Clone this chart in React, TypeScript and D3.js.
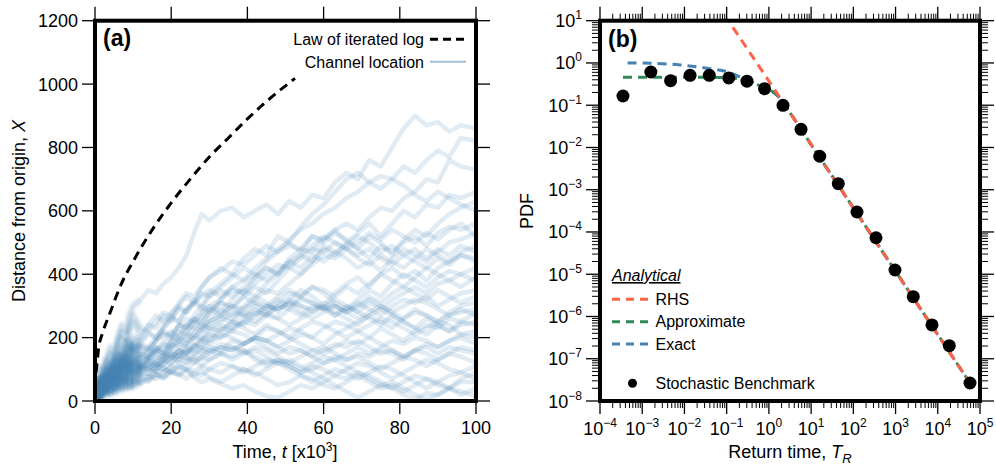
import React, { useEffect, useRef } from "react";
import * as d3 from "d3";

// ---- panel (a): channel location random walks ----
// sample times [x10^3]
const TIME = [
  0, 0.5, 1, 1.5, 2, 3, 4, 5, 6, 7, 8, 9, 10,
  12, 14, 16, 18, 20, 22, 24, 26, 28, 30,
  33, 36, 39, 42, 45, 48, 51, 54, 57, 60, 63, 66,
  69, 72, 75, 78, 81, 84, 87, 90, 93, 96, 100,
];

// distance from origin for each realisation (coarse)
const CHANNELS: number[][] = [
  [0, 40, 75, 55, 100, 130, 170, 150, 200, 240, 220, 270, 300,
   320, 350, 340, 370, 390, 420, 460, 530, 590, 570,
   600, 610, 580, 600, 620, 590, 630, 610, 650, 640, 690, 720,
   700, 760, 740, 800, 860, 900, 870, 880, 850, 870, 860],
  [0, 30, 60, 40, 80, 110, 90, 140, 120, 160, 190, 170, 185,
   200, 240, 230, 270, 250, 300, 330, 310, 360, 390,
   420, 400, 450, 480, 460, 520, 500, 550, 590, 620, 660, 700,
   720, 690, 710, 700, 740, 720, 760, 790, 770, 830, 820],
  [0, 45, 25, 65, 50, 85, 120, 100, 140, 120, 150, 175, 150,
   160, 150, 190, 210, 200, 240, 230, 270, 300, 280,
   320, 360, 340, 390, 420, 400, 450, 480, 470, 510, 540, 560,
   540, 580, 610, 600, 640, 660, 700, 690, 760, 740, 730],
  [0, 35, 15, 50, 75, 55, 95, 80, 115, 140, 125, 160, 170,
   180, 170, 200, 230, 260, 250, 290, 320, 300, 340,
   370, 400, 380, 420, 450, 480, 500, 470, 520, 510, 540, 500,
   530, 560, 520, 560, 600, 580, 620, 610, 650, 640, 660],
  [0, 20, 45, 30, 60, 40, 80, 105, 85, 120, 100, 135, 120,
   140, 170, 160, 190, 220, 200, 240, 260, 240, 280,
   310, 290, 330, 360, 340, 380, 420, 400, 440, 480, 460, 500,
   480, 520, 500, 460, 510, 540, 520, 560, 590, 610, 630],
  [0, 45, 30, 70, 55, 95, 80, 120, 150, 130, 170, 190, 165,
   180, 210, 200, 230, 260, 290, 280, 310, 340, 330,
   360, 390, 420, 400, 440, 470, 490, 480, 520, 500, 530, 510,
   480, 450, 490, 470, 500, 520, 490, 530, 550, 540, 560],
  [0, 15, 35, 60, 40, 75, 60, 100, 80, 115, 95, 125, 105,
   110, 140, 170, 150, 190, 220, 210, 250, 280, 300,
   280, 320, 350, 330, 370, 400, 430, 460, 440, 490, 470, 450,
   420, 440, 410, 450, 480, 460, 440, 470, 500, 510, 530],
  [0, 35, 60, 40, 75, 100, 80, 115, 140, 170, 150, 180, 200,
   190, 220, 200, 240, 270, 250, 290, 310, 290, 330,
   350, 330, 360, 390, 420, 400, 440, 460, 490, 520, 500, 480,
   450, 430, 460, 440, 420, 450, 480, 460, 440, 470, 490],
  [0, 25, 45, 25, 55, 80, 60, 90, 120, 100, 130, 110, 135,
   130, 160, 150, 170, 200, 190, 220, 250, 230, 260,
   290, 270, 300, 330, 310, 280, 320, 350, 330, 300, 340, 370,
   390, 360, 400, 420, 390, 410, 380, 420, 440, 460, 450],
  [0, 30, 55, 35, 60, 90, 115, 95, 125, 105, 140, 165, 140,
   150, 140, 170, 160, 190, 210, 240, 230, 260, 290,
   270, 300, 330, 310, 290, 320, 300, 330, 360, 340, 310, 290,
   320, 350, 330, 370, 400, 380, 360, 390, 410, 400, 420],
  [0, 40, 20, 55, 40, 70, 100, 130, 110, 140, 165, 145, 175,
   170, 160, 190, 220, 210, 240, 230, 260, 250, 280,
   310, 300, 270, 300, 280, 260, 290, 270, 300, 290, 320, 300,
   280, 310, 290, 320, 340, 360, 340, 370, 380, 360, 390],
  [0, 20, 40, 60, 40, 70, 50, 80, 105, 85, 115, 95, 110,
   120, 110, 140, 130, 160, 150, 180, 200, 190, 220,
   240, 230, 260, 290, 270, 300, 320, 300, 280, 300, 270, 290,
   310, 290, 270, 300, 320, 310, 330, 300, 320, 340, 350],
  [0, 35, 15, 45, 30, 60, 40, 75, 55, 90, 70, 100, 80,
   95, 120, 110, 130, 150, 140, 170, 160, 190, 210,
   200, 230, 250, 240, 270, 260, 240, 260, 280, 300, 280, 260,
   240, 270, 250, 230, 260, 280, 270, 250, 280, 300, 310],
  [0, 10, 30, 15, 40, 30, 60, 85, 65, 95, 75, 105, 120,
   100, 130, 150, 140, 170, 190, 180, 210, 200, 230,
   220, 250, 230, 210, 240, 220, 200, 230, 250, 240, 220, 200,
   220, 200, 230, 210, 190, 220, 240, 230, 260, 250, 280],
  [0, 30, 50, 30, 55, 35, 70, 50, 85, 65, 100, 80, 95,
   110, 100, 125, 145, 135, 160, 150, 175, 165, 190,
   210, 200, 180, 200, 190, 210, 230, 220, 200, 180, 210, 230,
   250, 270, 290, 270, 250, 230, 260, 240, 220, 240, 250],
  [0, 20, 8, 35, 20, 50, 30, 65, 45, 75, 55, 80, 60,
   80, 75, 95, 90, 110, 130, 120, 140, 160, 150,
   170, 160, 180, 200, 190, 170, 190, 210, 200, 230, 250, 240,
   220, 240, 260, 250, 230, 210, 230, 250, 240, 210, 220],
  [0, 35, 55, 35, 65, 90, 70, 100, 80, 110, 135, 110, 125,
   120, 140, 130, 150, 140, 120, 140, 130, 110, 130,
   150, 140, 160, 130, 110, 130, 120, 100, 120, 140, 130, 150,
   170, 150, 170, 190, 180, 200, 190, 170, 190, 200, 180],
  [0, 10, 25, 40, 25, 45, 30, 55, 40, 65, 45, 70, 50,
   65, 60, 80, 70, 90, 85, 100, 95, 110, 100,
   90, 110, 100, 80, 100, 120, 110, 90, 100, 120, 140, 130,
   150, 140, 160, 150, 130, 160, 170, 150, 170, 160, 150],
  [0, 25, 45, 20, 50, 30, 55, 35, 65, 45, 70, 50, 70,
   55, 70, 85, 75, 95, 110, 100, 120, 140, 130,
   150, 170, 160, 140, 120, 130, 110, 90, 110, 100, 80, 100,
   120, 110, 90, 70, 90, 110, 130, 120, 100, 90, 110],
  [0, 20, 40, 55, 35, 60, 85, 65, 95, 120, 100, 130, 110,
   100, 120, 110, 130, 150, 140, 160, 150, 170, 160,
   180, 170, 150, 160, 140, 120, 130, 110, 90, 70, 50, 30,
   10, 30, 50, 40, 60, 80, 70, 50, 40, 60, 60],
  [0, 35, 15, 50, 65, 45, 80, 105, 85, 110, 135, 115, 130,
   110, 100, 90, 105, 90, 80, 95, 75, 60, 70,
   55, 40, 50, 30, 15, 10, 30, 50, 40, 60, 80, 70,
   90, 80, 60, 40, 20, 5, 25, 20, 40, 30, 15],
  [0, 45, 80, 105, 80, 120, 150, 130, 175, 200, 180, 220, 245,
   210, 240, 270, 250, 280, 300, 280, 310, 330, 350,
   330, 360, 380, 400, 380, 410, 440, 420, 460, 440, 470, 490,
   520, 500, 470, 490, 460, 480, 450, 480, 460, 490, 470],
  [0, 20, 40, 65, 45, 70, 55, 90, 70, 105, 85, 115, 95,
   105, 100, 120, 115, 135, 160, 150, 175, 200, 190,
   220, 250, 240, 270, 300, 290, 310, 280, 260, 280, 300, 280,
   300, 330, 310, 340, 360, 340, 320, 350, 330, 310, 330],
  [0, 10, 25, 45, 25, 50, 75, 55, 80, 60, 90, 115, 95,
   90, 110, 100, 120, 140, 160, 150, 170, 190, 180,
   200, 220, 210, 190, 170, 150, 170, 160, 140, 160, 180, 170,
   190, 170, 150, 160, 140, 160, 180, 170, 190, 210, 200],
  [0, 25, 10, 35, 15, 40, 20, 50, 30, 60, 40, 65, 45,
   60, 80, 70, 90, 110, 100, 120, 140, 130, 150,
   170, 160, 180, 200, 190, 170, 150, 160, 140, 120, 130, 110,
   90, 70, 50, 60, 40, 20, 5, 20, 40, 70, 90],
  [0, 35, 65, 45, 80, 60, 95, 125, 100, 135, 110, 140, 160,
   110, 130, 120, 100, 90, 110, 100, 80, 95, 75,
   60, 80, 100, 90, 70, 50, 60, 80, 70, 50, 40, 60,
   80, 60, 40, 50, 30, 50, 70, 60, 40, 20, 40],
  [0, 40, 70, 50, 90, 130, 105, 150, 190, 220, 195, 240, 270,
   230, 220, 250, 280, 270, 310, 340, 330, 360, 390,
   410, 440, 430, 460, 490, 470, 510, 540, 560, 590, 610, 640,
   660, 690, 670, 700, 680, 650, 630, 660, 640, 620, 600],
  [0, 15, 45, 70, 50, 80, 105, 85, 115, 145, 120, 150, 175,
   145, 135, 160, 180, 170, 190, 210, 200, 230, 250,
   270, 260, 290, 310, 300, 330, 350, 330, 310, 290, 300, 280,
   260, 280, 300, 280, 260, 290, 270, 250, 270, 290, 270],
  [0, 25, 50, 30, 60, 45, 80, 60, 95, 75, 110, 90, 120,
   140, 130, 160, 150, 180, 170, 200, 230, 220, 250,
   270, 300, 290, 320, 350, 340, 370, 400, 430, 460, 450, 480,
   500, 530, 510, 540, 520, 500, 530, 510, 540, 560, 520],
  [0, 15, 35, 20, 45, 30, 55, 40, 70, 55, 85, 65, 90,
   80, 105, 95, 120, 140, 130, 155, 180, 170, 200,
   230, 220, 250, 280, 270, 300, 290, 320, 310, 290, 270, 300,
   280, 260, 240, 270, 250, 230, 210, 240, 220, 250, 240],
  [0, 30, 10, 40, 25, 55, 35, 65, 50, 80, 60, 90, 70,
   90, 85, 110, 100, 125, 145, 135, 160, 150, 170,
   160, 190, 180, 200, 230, 220, 200, 180, 160, 170, 150, 130,
   140, 120, 100, 120, 140, 130, 110, 130, 150, 140, 120],
  [0, 20, 5, 30, 50, 35, 60, 45, 75, 100, 85, 110, 95,
   115, 140, 160, 150, 175, 200, 190, 215, 240, 230,
   250, 280, 270, 250, 280, 310, 340, 330, 360, 350, 330, 360,
   340, 370, 400, 380, 360, 390, 420, 400, 380, 400, 380],
  [0, 10, 30, 50, 30, 60, 45, 70, 55, 85, 70, 100, 85,
   105, 125, 115, 140, 160, 180, 170, 200, 220, 240,
   260, 250, 280, 270, 300, 290, 310, 300, 290, 310, 300, 280,
   300, 320, 300, 280, 300, 320, 310, 290, 270, 280, 290],
  [0, 25, 40, 20, 45, 25, 50, 35, 60, 45, 65, 50, 75,
   95, 85, 105, 130, 120, 145, 135, 120, 140, 160,
   150, 130, 150, 170, 160, 140, 120, 140, 160, 150, 170, 190,
   180, 200, 180, 160, 140, 160, 150, 130, 150, 170, 160],
  [0, 35, 55, 35, 70, 50, 85, 110, 90, 120, 145, 125, 150,
   175, 165, 190, 215, 205, 235, 260, 250, 275, 300,
   320, 350, 340, 370, 400, 430, 420, 450, 480, 470, 500, 480,
   460, 480, 450, 430, 460, 440, 420, 450, 430, 460, 440],
  [0, 15, 30, 15, 35, 20, 40, 25, 50, 35, 55, 40, 60,
   75, 65, 85, 75, 95, 85, 70, 90, 80, 100,
   120, 110, 90, 110, 130, 120, 100, 80, 60, 80, 100, 90,
   70, 90, 110, 100, 80, 60, 40, 60, 80, 90, 70],
];

// law of the iterated logarithm envelope
const LIL_T = [0.3, 1, 2, 4, 7, 10, 15, 20, 25, 30, 35, 40, 45, 52.5];
const LIL_X = [90, 170, 215, 280, 372, 440, 540, 625, 700, 770, 830, 890, 945, 1018];

const A_XTICKS = [0, 20, 40, 60, 80, 100];
const A_YTICKS = [0, 200, 400, 600, 800, 1000, 1200];

// ---- panel (b): return time PDF ----
const BENCH_T = [3.5e-4, 1.6e-3, 4.7e-3, 0.0136, 0.0388, 0.112, 0.303, 0.79, 2.16, 5.77,
  16, 44, 122, 344, 970, 2630, 7300, 18750, 58000];
const BENCH_PDF = [0.165, 0.61, 0.38, 0.51, 0.51, 0.44, 0.37, 0.246, 0.0995, 0.0269,
  6.2e-3, 1.39e-3, 2.97e-4, 7.3e-5, 1.26e-5, 2.94e-6, 6.3e-7, 2.04e-7, 2.67e-8];

const RHS_T = [0.11, 1, 10, 100, 1000, 10000, 58000];
const RHS_PDF = [10, 0.373, 0.0118, 3.73e-4, 1.18e-5, 3.73e-7, 2.67e-8];

const APPROX_T = [3.5e-4, 1e-3, 0.01, 0.1, 0.17, 0.42, 0.89, 1.53, 2.19, 5, 10, 100, 1000, 10000, 58000];
const APPROX_PDF = [0.46, 0.46, 0.46, 0.45, 0.43, 0.33, 0.25, 0.175, 0.111, 0.0333, 0.0118, 3.73e-4, 1.18e-5, 3.73e-7, 2.67e-8];

const EXACT_T = [4.5e-4, 1.8e-3, 7.9e-3, 0.034, 0.1, 0.3, 0.74, 1.53, 3.2, 10, 100, 1000, 10000, 58000];
const EXACT_PDF = [1.0, 0.98, 0.9, 0.75, 0.62, 0.395, 0.265, 0.175, 0.065, 0.0116, 3.7e-4, 1.17e-5, 3.7e-7, 2.65e-8];

const B_XDECADES = [-4, -3, -2, -1, 0, 1, 2, 3, 4, 5];
const B_YDECADES = [-8, -7, -6, -5, -4, -3, -2, -1, 0, 1];

const LEGEND_B = ["RHS", "Approximate", "Exact"];

const FONT = "'Liberation Sans', Arial, Helvetica, sans-serif";
const RED = "#ff6347";
const GREEN = "#2e8b57";
const BLUE = "#4682b4";

function expText(e: number) {
  return e < 0 ? "\u2212" + -e : String(e);
}

export default function App() {
  const ref = useRef<SVGSVGElement>(null);

  useEffect(() => {
    document.body.style.margin = "0";
    const svg = d3.select(ref.current);
    svg.selectAll("*").remove();
    svg.style("font-family", FONT);

    const top = 20.7, bottom = 401;

    // ================= panel (a) =================
    const xA = d3.scaleLinear().domain([0, 100]).range([95, 476]);
    const yA = d3.scaleLinear().domain([0, 1200]).range([bottom, top]);

    const defs = svg.append("defs");
    defs.append("clipPath").attr("id", "clipA").append("rect")
      .attr("x", 95).attr("y", top).attr("width", 381).attr("height", bottom - top);
    defs.append("clipPath").attr("id", "clipB").append("rect")
      .attr("x", 600).attr("y", top).attr("width", 380).attr("height", bottom - top);

    const gA = svg.append("g");
    const dataA = gA.append("g").attr("clip-path", "url(#clipA)");

    const walk = d3.line<number>()
      .defined((d, i) => i < TIME.length)
      .x((d, i) => xA(TIME[i]))
      .y((d) => yA(d));

    // the early part of every walk jitters a lot, so it is drawn again wider
    const early = d3.line<number>()
      .defined((d, i) => TIME[i] <= 12)
      .x((d, i) => xA(TIME[i]))
      .y((d) => yA(d));

    dataA.selectAll("path.early")
      .data(CHANNELS)
      .enter().append("path")
      .attr("class", "early")
      .attr("d", (d) => early(d))
      .attr("fill", "none")
      .attr("stroke", BLUE)
      .attr("stroke-opacity", 0.09)
      .attr("stroke-width", 9)
      .attr("stroke-linejoin", "round");

    // thick, faint strokes stand in for the fine jitter of each walk
    dataA.selectAll("path.ch")
      .data(CHANNELS)
      .enter().append("path")
      .attr("class", "ch")
      .attr("d", (d) => walk(d))
      .attr("fill", "none")
      .attr("stroke", BLUE)
      .attr("stroke-opacity", 0.16)
      .attr("stroke-width", 4.5)
      .attr("stroke-linejoin", "round");

    dataA.append("path")
      .attr("d", d3.line<number>().x((d, i) => xA(LIL_T[i])).y((d) => yA(d)).curve(d3.curveMonotoneX)(LIL_X))
      .attr("fill", "none")
      .attr("stroke", "black")
      .attr("stroke-width", 3)
      .attr("stroke-dasharray", "9,6");

    // ticks on all four sides
    A_XTICKS.forEach((t) => {
      const x = xA(t);
      gA.append("line").attr("x1", x).attr("x2", x).attr("y1", bottom).attr("y2", bottom + 13)
        .attr("stroke", "black").attr("stroke-width", 1.3);
      gA.append("line").attr("x1", x).attr("x2", x).attr("y1", top).attr("y2", top - 14)
        .attr("stroke", "black").attr("stroke-width", 1.3);
      gA.append("text").attr("x", x).attr("y", 434).attr("text-anchor", "middle")
        .style("font-size", "18px").text(t);
    });
    A_YTICKS.forEach((v) => {
      const y = yA(v);
      gA.append("line").attr("x1", 95).attr("x2", 82).attr("y1", y).attr("y2", y)
        .attr("stroke", "black").attr("stroke-width", 1.3);
      gA.append("line").attr("x1", 476).attr("x2", 490).attr("y1", y).attr("y2", y)
        .attr("stroke", "black").attr("stroke-width", 1.3);
      gA.append("text").attr("x", 78).attr("y", y + 6.5).attr("text-anchor", "end")
        .style("font-size", "18px").text(v);
    });

    gA.append("rect").attr("x", 95).attr("y", top).attr("width", 381).attr("height", bottom - top)
      .attr("fill", "none").attr("stroke", "black").attr("stroke-width", 4);

    gA.append("text").attr("x", 103).attr("y", 46).style("font-size", "23px")
      .style("font-weight", "bold").text("(a)");

    // legend (a)
    gA.append("text").attr("x", 424).attr("y", 44.5).attr("text-anchor", "end")
      .style("font-size", "16px").text("Law of iterated log");
    gA.append("line").attr("x1", 430).attr("x2", 466).attr("y1", 39.3).attr("y2", 39.3)
      .attr("stroke", "black").attr("stroke-width", 3).attr("stroke-dasharray", "8,5");
    gA.append("text").attr("x", 424).attr("y", 67.5).attr("text-anchor", "end")
      .style("font-size", "16px").text("Channel location");
    gA.append("line").attr("x1", 430).attr("x2", 466).attr("y1", 61.7).attr("y2", 61.7)
      .attr("stroke", BLUE).attr("stroke-opacity", 0.5).attr("stroke-width", 2);

    // axis titles (a)
    const xtA = gA.append("text").attr("x", 285).attr("y", 458).attr("text-anchor", "middle")
      .style("font-size", "18px");
    xtA.append("tspan").text("Time, ");
    xtA.append("tspan").style("font-style", "italic").text("t");
    xtA.append("tspan").text(" [x10");
    xtA.append("tspan").attr("dy", -7).style("font-size", "12px").text("3");
    xtA.append("tspan").attr("dy", 7).text("]");

    const ytA = gA.append("text").attr("transform", "translate(25,211) rotate(-90)")
      .attr("text-anchor", "middle").style("font-size", "18px");
    ytA.append("tspan").text("Distance from origin, ");
    ytA.append("tspan").style("font-style", "italic").text("X");

    // ================= panel (b) =================
    const xB = d3.scaleLog().domain([1e-4, 1e5]).range([600, 980]);
    const yB = d3.scaleLog().domain([1e-8, 10]).range([bottom, top]);

    const gB = svg.append("g");
    const dataB = gB.append("g").attr("clip-path", "url(#clipB)");

    const curve = (T: number[], P: number[]) =>
      d3.line<number>().x((d, i) => xB(T[i])).y((d) => yB(d)).curve(d3.curveMonotoneX)(P);

    dataB.append("path").attr("d", curve(EXACT_T, EXACT_PDF))
      .attr("fill", "none").attr("stroke", BLUE).attr("stroke-width", 3).attr("stroke-dasharray", "9,6");
    dataB.append("path").attr("d", curve(APPROX_T, APPROX_PDF))
      .attr("fill", "none").attr("stroke", GREEN).attr("stroke-width", 3).attr("stroke-dasharray", "9,6");
    dataB.append("path").attr("d", curve(RHS_T, RHS_PDF))
      .attr("fill", "none").attr("stroke", RED).attr("stroke-width", 3).attr("stroke-dasharray", "9,6")
      .attr("stroke-dashoffset", 7);

    dataB.selectAll("circle.pt")
      .data(BENCH_PDF)
      .enter().append("circle")
      .attr("class", "pt")
      .attr("cx", (d, i) => xB(BENCH_T[i]))
      .attr("cy", (d) => yB(d))
      .attr("r", 6.5)
      .attr("fill", "black");

    // log ticks
    B_XDECADES.forEach((e) => {
      const x = xB(Math.pow(10, e));
      gB.append("line").attr("x1", x).attr("x2", x).attr("y1", bottom).attr("y2", bottom + 13)
        .attr("stroke", "black").attr("stroke-width", 1.3);
      gB.append("line").attr("x1", x).attr("x2", x).attr("y1", top).attr("y2", top - 14)
        .attr("stroke", "black").attr("stroke-width", 1.3);
      const lab = gB.append("text").attr("x", x).attr("y", 435).attr("text-anchor", "middle")
        .style("font-size", "18px");
      lab.append("tspan").text("10");
      lab.append("tspan").attr("dy", -8).style("font-size", "12px").text(expText(e));
      if (e < 5) {
        for (let k = 2; k <= 9; k++) {
          const xm = xB(k * Math.pow(10, e));
          gB.append("line").attr("x1", xm).attr("x2", xm).attr("y1", bottom).attr("y2", bottom + 7)
            .attr("stroke", "black").attr("stroke-width", 1);
          gB.append("line").attr("x1", xm).attr("x2", xm).attr("y1", top).attr("y2", top - 7)
            .attr("stroke", "black").attr("stroke-width", 1);
        }
      }
    });
    B_YDECADES.forEach((e) => {
      const y = yB(Math.pow(10, e));
      gB.append("line").attr("x1", 600).attr("x2", 586).attr("y1", y).attr("y2", y)
        .attr("stroke", "black").attr("stroke-width", 1.3);
      gB.append("line").attr("x1", 980).attr("x2", 994).attr("y1", y).attr("y2", y)
        .attr("stroke", "black").attr("stroke-width", 1.3);
      const lab = gB.append("text").attr("x", 582).attr("y", y + 6.5).attr("text-anchor", "end")
        .style("font-size", "18px");
      lab.append("tspan").text("10");
      lab.append("tspan").attr("dy", -8).style("font-size", "12px").text(expText(e));
      if (e < 1) {
        for (let k = 2; k <= 9; k++) {
          const ym = yB(k * Math.pow(10, e));
          gB.append("line").attr("x1", 600).attr("x2", 592).attr("y1", ym).attr("y2", ym)
            .attr("stroke", "black").attr("stroke-width", 1);
          gB.append("line").attr("x1", 980).attr("x2", 988).attr("y1", ym).attr("y2", ym)
            .attr("stroke", "black").attr("stroke-width", 1);
        }
      }
    });

    gB.append("rect").attr("x", 600).attr("y", top).attr("width", 380).attr("height", bottom - top)
      .attr("fill", "none").attr("stroke", "black").attr("stroke-width", 4);

    gB.append("text").attr("x", 608).attr("y", 47).style("font-size", "23px")
      .style("font-weight", "bold").text("(b)");

    // legend (b)
    gB.append("text").attr("x", 612).attr("y", 281).style("font-size", "16px")
      .style("font-style", "italic").style("text-decoration", "underline").text("Analytical");
    const legColors = [RED, GREEN, BLUE];
    const legY = [299.3, 321.7, 344];
    LEGEND_B.forEach((name, i) => {
      gB.append("line").attr("x1", 612).attr("x2", 652).attr("y1", legY[i]).attr("y2", legY[i])
        .attr("stroke", legColors[i]).attr("stroke-width", 3).attr("stroke-dasharray", "8,6");
      gB.append("text").attr("x", 655.5).attr("y", legY[i] + 5.5).style("font-size", "16px").text(name);
    });
    gB.append("circle").attr("cx", 632.5).attr("cy", 383.3).attr("r", 4.5).attr("fill", "black");
    gB.append("text").attr("x", 655.5).attr("y", 388.8).style("font-size", "16px").text("Stochastic Benchmark");

    // axis titles (b)
    const xtB = gB.append("text").attr("x", 790).attr("y", 458).attr("text-anchor", "middle")
      .style("font-size", "18px");
    xtB.append("tspan").text("Return time, ");
    xtB.append("tspan").style("font-style", "italic").text("T");
    xtB.append("tspan").attr("dy", 5).style("font-size", "13px").style("font-style", "italic").text("R");

    gB.append("text").attr("transform", "translate(533,211) rotate(-90)")
      .attr("text-anchor", "middle").style("font-size", "18px").text("PDF");
  }, []);

  return <svg ref={ref} width={996} height={467} style={{ display: "block" }} />;
}
